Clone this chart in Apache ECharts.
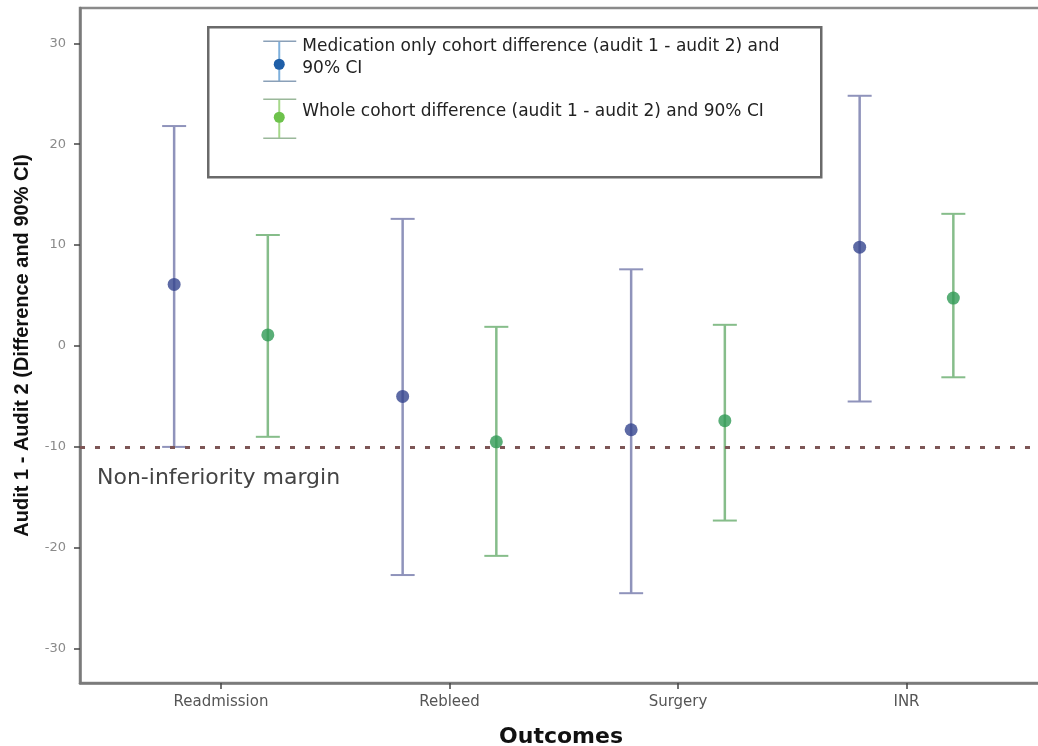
<!DOCTYPE html>
<html><head><meta charset="utf-8">
<script src="https://cdn.jsdelivr.net/npm/echarts@6/dist/echarts.min.js"></script>
<style>html,body{margin:0;padding:0;background:#fff}#c{width:1038px;height:746px}</style>
</head><body><div id="c"></div>
<script>
const categories = ['Readmission', 'Rebleed', 'Surgery', 'INR'];
const medPoint = [6.1, -5.0, -8.3, 9.8];
const medLower = [-10.0, -22.7, -24.5, -5.5];
const medUpper = [21.8, 12.6, 7.6, 24.8];
const wholePoint = [1.1, -9.5, -7.4, 4.75];
const wholeLower = [-9.0, -20.8, -17.3, -3.1];
const wholeUpper = [11.0, 1.9, 2.1, 13.1];
const yTicks = [-30, -20, -10, 0, 10, 20, 30];
const xTicks = [1, 2, 3, 4];
const marginValue = -10;
const marginLabel = 'Non-inferiority margin';
const seriesNames = ['Medication only cohort difference (audit 1 - audit 2) and 90% CI',
                     'Whole cohort difference (audit 1 - audit 2) and 90% CI'];

const OFF = 0.205;
const medColor = '#34458f', medLine = '#8f93bb';
const wholeColor = '#2f9a55', wholeLine = '#86bd8a';

function errRender(color) {
  return function (params, api) {
    const x = api.value(0), lo = api.value(1), hi = api.value(2);
    const a = api.coord([x, hi]), b = api.coord([x, lo]);
    const w = 12;
    return {
      type: 'group', children: [
        {type: 'line', shape: {x1: a[0], y1: a[1], x2: b[0], y2: b[1]}, style: {stroke: color, lineWidth: 2.5}},
        {type: 'line', shape: {x1: a[0] - w, y1: a[1], x2: a[0] + w, y2: a[1]}, style: {stroke: color, lineWidth: 2}},
        {type: 'line', shape: {x1: b[0] - w, y1: b[1], x2: b[0] + w, y2: b[1]}, style: {stroke: color, lineWidth: 2}}
      ]
    };
  };
}

const chart = echarts.init(document.getElementById('c'));
const option = {
  animation: false,
  backgroundColor: '#fff',
  grid: {left: 80, top: 8, right: -4, bottom: 63, show: true, borderColor: '#8a8a8a', borderWidth: 2.5,
    containLabel: false, outerBoundsMode: 'none'},
  xAxis: {
    type: 'value', min: 0.383, max: 4.593,
    name: 'Outcomes', nameLocation: 'middle', nameGap: 43,
    nameTextStyle: {fontFamily: 'DejaVu Sans', fontWeight: 'bold', fontSize: 22, color: '#111'},
    axisLine: {show: true, onZero: false, lineStyle: {color: '#7a7a7a', width: 2.5}},
    axisTick: {show: true, customValues: xTicks, length: 6, lineStyle: {color: '#444', width: 1.5}},
    axisLabel: {customValues: xTicks, formatter: v => categories[Math.round(v) - 1], margin: 12,
      fontFamily: 'DejaVu Sans', fontSize: 15, color: '#555'},
    splitLine: {show: false}
  },
  yAxis: {
    type: 'value', min: -33.4, max: 33.5,
    name: 'Audit 1 - Audit 2 (Difference and 90% CI)', nameLocation: 'middle', nameGap: 48,
    nameTextStyle: {fontFamily: 'Liberation Sans', fontWeight: 'bold', fontSize: 20, color: '#111'},
    axisLine: {show: true, onZero: false, lineStyle: {color: '#7a7a7a', width: 2.5}},
    axisTick: {show: true, customValues: yTicks, length: 6, lineStyle: {color: '#444', width: 1.5}},
    axisLabel: {customValues: yTicks, margin: 14, fontFamily: 'DejaVu Sans', fontSize: 13, color: '#8a8a8a'},
    splitLine: {show: false}
  },
  series: [
    {type: 'custom', name: seriesNames[0], renderItem: errRender(medLine), silent: true, z: 2,
      data: categories.map((c, i) => [i + 1 - OFF, medLower[i], medUpper[i]])},
    {type: 'custom', name: seriesNames[1], renderItem: errRender(wholeLine), silent: true, z: 2,
      data: categories.map((c, i) => [i + 1 + OFF, wholeLower[i], wholeUpper[i]])},
    {type: 'scatter', name: seriesNames[0], symbolSize: 13, z: 3, itemStyle: {color: medColor},
      data: categories.map((c, i) => [i + 1 - OFF, medPoint[i]]),
      markLine: {silent: true, symbol: 'none', label: {show: false}, z: 4,
        lineStyle: {type: [5, 10], color: '#7d5656', width: 3},
        data: [{yAxis: marginValue}]}},
    {type: 'scatter', name: seriesNames[1], symbolSize: 13, z: 3, itemStyle: {color: wholeColor},
      data: categories.map((c, i) => [i + 1 + OFF, wholePoint[i]])}
  ]
};
chart.setOption(option);

const my = chart.convertToPixel({yAxisIndex: 0}, marginValue);
const txtFont = '17px DejaVu Sans';
chart.setOption({
  graphic: [
    {type: 'text', left: 97, top: my + 30 - 10,
      style: {text: marginLabel, font: '22px DejaVu Sans', fill: '#444'}},
    {type: 'group', left: 207, top: 26, children: [
      {type: 'rect', shape: {x: 0, y: 0, width: 613, height: 150}, style: {fill: '#fff', stroke: '#6a6a6a', lineWidth: 2.5}},
      {type: 'line', shape: {x1: 71, y1: 14, x2: 71, y2: 54}, style: {stroke: '#7fb0dc', lineWidth: 2}},
      {type: 'line', shape: {x1: 55, y1: 14, x2: 88, y2: 14}, style: {stroke: '#8aa0b8', lineWidth: 1.5}},
      {type: 'line', shape: {x1: 55, y1: 54, x2: 88, y2: 54}, style: {stroke: '#8aa0b8', lineWidth: 1.5}},
      {type: 'circle', shape: {cx: 71, cy: 37, r: 5.5}, style: {fill: '#1f5fa8'}},
      {type: 'text', x: 94, y: 19, style: {text: 'Medication only cohort difference (audit 1 - audit 2) and', font: txtFont, fill: '#222', verticalAlign: 'middle'}},
      {type: 'text', x: 94, y: 41, style: {text: '90% CI', font: txtFont, fill: '#222', verticalAlign: 'middle'}},
      {type: 'line', shape: {x1: 71, y1: 72, x2: 71, y2: 111}, style: {stroke: '#a6d88a', lineWidth: 2}},
      {type: 'line', shape: {x1: 55, y1: 72, x2: 88, y2: 72}, style: {stroke: '#9ab89a', lineWidth: 1.5}},
      {type: 'line', shape: {x1: 55, y1: 111, x2: 88, y2: 111}, style: {stroke: '#9ab89a', lineWidth: 1.5}},
      {type: 'circle', shape: {cx: 71, cy: 90, r: 5.5}, style: {fill: '#6dc24b'}},
      {type: 'text', x: 94, y: 84, style: {text: 'Whole cohort difference (audit 1 - audit 2) and 90% CI', font: txtFont, fill: '#222', verticalAlign: 'middle'}}
    ]}
  ]
});
</script></body></html>
